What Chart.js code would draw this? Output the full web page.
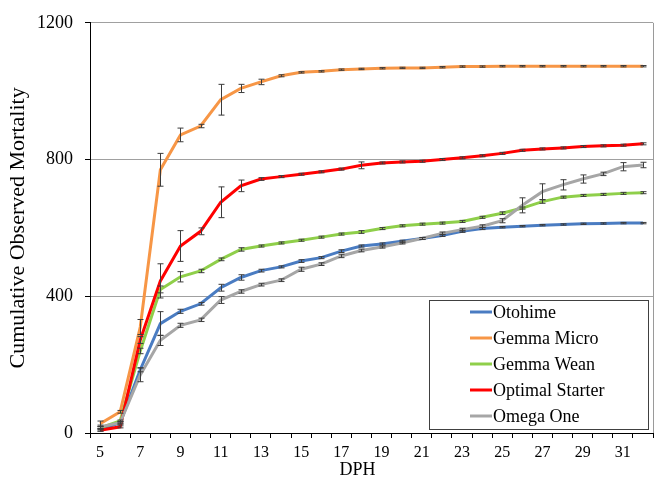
<!DOCTYPE html>
<html>
<head>
<meta charset="utf-8">
<script src="https://cdn.jsdelivr.net/npm/chart.js@4.4.1/dist/chart.umd.min.js"></script>
<style>
  html, body { margin: 0; padding: 0; background: #fff; }
  #wrap { width: 659px; height: 491px; }
</style>
</head>
<body>
<div id="wrap"><canvas id="mortChart"></canvas></div>
<script>
// Days post hatch (category labels)
const days = ['5','6','7','8','9','10','11','12','13','14','15','16','17','18','19','20',
              '21','22','23','24','25','26','27','28','29','30','31','32'];

// Cumulative observed mortality
const otohime = [10, 30, 185, 320, 356, 378, 425, 455, 475, 486, 503, 513, 532, 547, 553, 561,
                 569, 578, 590, 598, 602, 605, 608, 610, 612, 613, 614, 614];
const gemmaMicro = [27, 62, 310, 770, 872, 898, 975, 1008, 1027, 1045, 1055, 1058, 1063, 1065, 1067, 1068,
                    1068, 1070, 1072, 1072, 1073, 1073, 1073, 1073, 1073, 1073, 1073, 1073];
const gemmaWean = [15, 35, 240, 420, 457, 474, 508, 537, 547, 556, 564, 573, 582, 588, 598, 606,
                   611, 614, 619, 631, 643, 658, 677, 690, 695, 698, 701, 703];
const optimalStarter = [8, 18, 272, 445, 547, 590, 675, 723, 743, 750, 757, 764, 772, 783, 790, 793,
                        795, 800, 805, 811, 818, 827, 831, 834, 838, 840, 842, 846];
const omegaOne = [18, 30, 170, 271, 315, 331, 389, 414, 434, 447, 479, 494, 518, 534, 544, 556,
                  569, 584, 595, 605, 621, 666, 706, 726, 743, 758, 779, 784];

// Error bar half-widths (standard error), estimated
const otohimeErr = [4, 3, 6, 35, 6, 4, 10, 8, 4, 3, 4, 3, 4, 3, 3, 3, 3, 3, 3, 3, 2, 2, 2, 2, 2, 2, 2, 2];
const gemmaMicroErr = [8, 4, 22, 48, 20, 5, 45, 12, 8, 3, 2, 2, 2, 2, 2, 2, 2, 2, 2, 2, 2, 2, 2, 2, 2, 2, 2, 2];
const gemmaWeanErr = [4, 3, 8, 10, 15, 5, 4, 5, 3, 3, 3, 3, 3, 4, 3, 3, 3, 3, 3, 3, 4, 3, 5, 3, 3, 3, 3, 3];
const optimalStarterErr = [3, 3, 10, 50, 45, 10, 45, 17, 4, 3, 3, 3, 3, 10, 3, 3, 3, 3, 3, 3, 3, 3, 3, 3, 3, 3, 3, 3];
const omegaOneErr = [5, 4, 20, 15, 6, 5, 10, 5, 4, 4, 6, 4, 5, 4, 3, 3, 3, 4, 4, 4, 6, 22, 23, 15, 12, 5, 12, 8];

const seriesNames = ['Otohime', 'Gemma Micro', 'Gemma Wean', 'Optimal Starter', 'Omega One'];
const seriesColors = ['#4a7cc2', '#f79646', '#8fcf4a', '#ff0000', '#a6a6a6'];

const serif = "'Liberation Serif', 'DejaVu Serif', serif";

// error bars through the y scale
const errorBars = {
    id: 'errorBars',
    afterDatasetsDraw(chart) {
        const ctx = chart.ctx;
        const yScale = chart.scales.y;
        ctx.save();
        ctx.strokeStyle = '#3c3c3c';
        ctx.lineWidth = 1;
        chart.data.datasets.forEach((ds, i) => {
            const meta = chart.getDatasetMeta(i);
            meta.data.forEach((pt, j) => {
                const e = ds.errors[j];
                if (!e) return;
                const x = Math.round(pt.x) + 0.5;
                const top = yScale.getPixelForValue(ds.data[j] + e);
                const bot = yScale.getPixelForValue(ds.data[j] - e);
                ctx.beginPath();
                ctx.moveTo(x, top);
                ctx.lineTo(x, bot);
                ctx.moveTo(x - 3, top);
                ctx.lineTo(x + 3, top);
                ctx.moveTo(x - 3, bot);
                ctx.lineTo(x + 3, bot);
                ctx.stroke();
            });
        });
        ctx.restore();
    }
};

// right border of plot area, x title, legend box inside the plot
const frameAndLegend = {
    id: 'frameAndLegend',
    beforeDatasetsDraw(chart) {
        const { ctx, chartArea } = chart;
        ctx.save();
        ctx.strokeStyle = '#9a9a9a';
        ctx.lineWidth = 1;
        ctx.beginPath();
        ctx.moveTo(chartArea.right + 0.5, chartArea.top);
        ctx.lineTo(chartArea.right + 0.5, chartArea.bottom);
        ctx.stroke();
        ctx.restore();
    },
    afterDraw(chart) {
        const { ctx, chartArea } = chart;
        ctx.save();
        // x axis title, sits a bit left of centre like the original
        ctx.fillStyle = '#000';
        ctx.font = '18px ' + serif;
        ctx.textAlign = 'center';
        ctx.textBaseline = 'middle';
        ctx.fillText('DPH', chartArea.left + (chartArea.right - chartArea.left) * 0.475, chartArea.bottom + 37);

        const w = 219, h = 129;
        const x0 = chartArea.right - 5 - w;
        const y0 = chartArea.bottom - 4 - h;
        ctx.fillStyle = '#fff';
        ctx.fillRect(x0, y0, w, h);
        ctx.strokeStyle = '#404040';
        ctx.lineWidth = 1;
        ctx.strokeRect(x0 + 0.5, y0 + 0.5, w, h);
        ctx.font = '18px ' + serif;
        ctx.textAlign = 'left';
        chart.data.datasets.forEach((ds, i) => {
            const cy = y0 + 12 + i * 26;
            ctx.strokeStyle = ds.borderColor;
            ctx.lineWidth = 3;
            ctx.beginPath();
            ctx.moveTo(x0 + 41, cy);
            ctx.lineTo(x0 + 63, cy);
            ctx.stroke();
            ctx.fillStyle = '#000';
            ctx.fillText(ds.label, x0 + 64, cy + 1);
        });
        ctx.restore();
    }
};

const allData = [otohime, gemmaMicro, gemmaWean, optimalStarter, omegaOne];
const allErr = [otohimeErr, gemmaMicroErr, gemmaWeanErr, optimalStarterErr, omegaOneErr];

const datasets = seriesNames.map((name, i) => ({
    label: name,
    data: allData[i],
    errors: allErr[i],
    borderColor: seriesColors[i],
    backgroundColor: seriesColors[i],
    borderWidth: 3,
    pointRadius: 0,
    tension: 0,
    fill: false,
    order: seriesNames.length - i // last series on top
}));

new Chart(document.getElementById('mortChart'), {
    type: 'line',
    data: { labels: days, datasets: datasets },
    options: {
        responsive: true,
        maintainAspectRatio: false,
        animation: false,
        layout: { padding: { top: 21, right: 6, left: 0, bottom: 0 } },
        plugins: {
            legend: { display: false },
            tooltip: { enabled: false }
        },
        scales: {
            x: {
                offset: true,
                grid: {
                    offset: true,
                    drawOnChartArea: false,
                    drawTicks: true,
                    tickLength: 5,
                    tickColor: '#000'
                },
                border: { color: '#000' },
                ticks: {
                    autoSkip: false,
                    maxRotation: 0,
                    padding: 5,
                    color: '#000',
                    font: { family: serif, size: 16 },
                    callback: (v, i) => (i % 2 === 0 ? days[i] : '')
                },
                afterFit: (scale) => { scale.height = 58; }
            },
            y: {
                min: 0,
                max: 1200,
                grid: {
                    color: '#a0a0a0',
                    tickColor: '#000',
                    tickLength: 5
                },
                border: { color: '#000' },
                ticks: {
                    stepSize: 400,
                    padding: 12,
                    color: '#000',
                    font: { family: serif, size: 18 },
                    callback: (v) => String(v)
                },
                title: {
                    display: true,
                    text: 'Cumulative Observed Mortality',
                    color: '#000',
                    font: { family: serif, size: 22 },
                    padding: { top: 5, bottom: 0 }
                },
                afterFit: (scale) => { scale.width = 90; }
            }
        }
    },
    plugins: [errorBars, frameAndLegend]
});
</script>
</body>
</html>
